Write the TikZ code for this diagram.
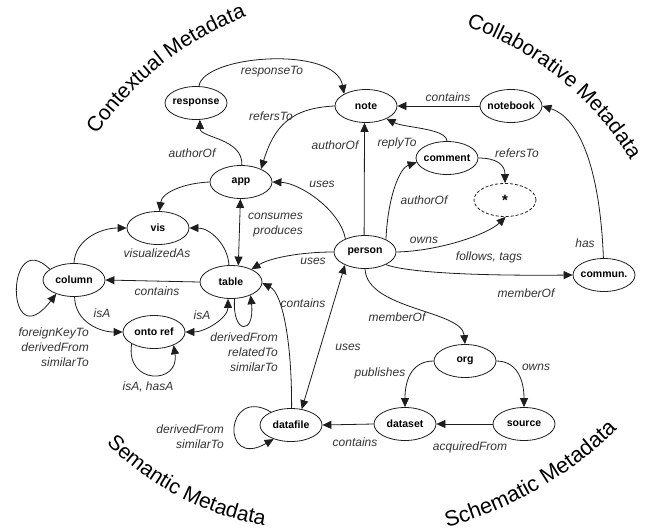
\documentclass[tikz,border=0pt]{standalone}
\usepackage{fontspec}
\setmainfont{Liberation Sans}
\usetikzlibrary{shapes.geometric,arrows.meta,decorations.text}
\definecolor{linec}{HTML}{1E1E1E}
\definecolor{labc}{HTML}{333333}
\newcommand\ttlfont{\fontsize{21}{21}\selectfont}
\newcommand\ttlfontb{\fontsize{21.8}{22}\selectfont}
\begin{document}
\begin{tikzpicture}[x=1pt,y=-1pt,
  ent/.style={ellipse,draw=linec,line width=0.8pt,minimum width=62pt,minimum height=33pt,
    inner xsep=-2pt,inner ysep=0pt,font=\bfseries\fontsize{10.5}{12}\selectfont},
  lab/.style={font=\itshape\fontsize{12}{15}\selectfont,text=labc,inner sep=0pt},
  conn/.style={draw=linec,line width=0.8pt,-{Triangle[length=9pt,width=8pt]}},
  both/.style={draw=linec,line width=0.8pt,{Triangle[length=9pt,width=8pt]}-{Triangle[length=9pt,width=8pt]}},
  ttl/.style={decorate,decoration={text along path,text={#1},text align=center}}
]
\useasboundingbox (0,0) rectangle (645,531);

% titles
\path[ttl={|\ttlfont|Contextual Metadata}] (66.5,189.6) .. controls (109.0,91.0) and (200.6,16.4) .. (307.0,1.0);
\path[ttl={|\ttlfont|Collaborative Metadata}] (417.0,13.2) .. controls (523.6,32.8) and (612.8,105.5) .. (653.2,206.1);
\path[ttl={|\ttlfont|Semantic Metadata}] (75.9,406.6) .. controls (129.8,483.6) and (218,529.3) .. (312,529);
\path[ttl={|\ttlfontb|Schematic Metadata}] (380.8,539.3) .. controls (493.3,528.9) and (595.5,469.8) .. (660.8,377.6);

% entities
\node[ent] (response) at (196,103) {response};
\node[ent] (note) at (366,106) {note};
\node[ent] (notebook) at (511,106) {notebook};
\node[ent] (app) at (241,182) {app};
\node[ent] (comment) at (447,158) {comment};
\node[ent,dash pattern=on 3pt off 2pt] (star) at (505,200) {\fontsize{15}{15}\selectfont *};
\node[ent] (vis) at (158,228) {vis};
\node[ent] (person) at (365,252) {person};
\node[ent] (column) at (74,280) {column};
\node[ent] (table) at (231,282) {table};
\node[ent] (commun) at (604,275) {commun.};
\node[ent] (onto) at (154,332) {onto ref};
\node[ent] (org) at (465,361) {org};
\node[ent] (datafile) at (291,425) {datafile};
\node[ent] (dataset) at (405,424) {dataset};
\node[ent] (source) at (524,424) {source};

% connectors
\draw[conn] (response.80) .. controls (203,55) and (335,45) .. (note.151);
\draw[conn] (note.west) .. controls (290,108) and (274,127) .. (app.33);
\draw[conn] (app.87) .. controls (243,138) and (200,138) .. (response.283);
\draw[conn] (person.93) -- (note.265);
\draw[conn] (comment.north) .. controls (446,128) and (405,128) .. (note.328);
\draw[conn] (notebook.west) -- (note.east);
\draw[conn] (commun.92) .. controls (600,170) and (580,118) .. (notebook.east);
\draw[conn] (comment.east) .. controls (497,158) and (505,165) .. (star.north);
\draw[conn] (person.east) .. controls (440,251) and (488,234) .. (star.272);
\draw[conn] (person.31) .. controls (388,195) and (400,168) .. (comment.188);
\draw[conn] (person.329) .. controls (405,272) and (470,276) .. (commun.west);
\draw[conn] (person.146) .. controls (340,210) and (300,183) .. (app.east);
\draw[conn] (person.west) .. controls (300,252) and (270,258) .. (table.32);
\draw[both] (app.268) -- (table.66);
\draw[conn] (app.west) .. controls (185,183) and (162,192) .. (vis.85);
\draw[conn] (table.97) .. controls (228,245) and (210,228) .. (vis.east);
\draw[conn] (column.north) .. controls (75,240) and (100,228) .. (vis.west);
\draw[conn] (table.west) -- (column.east);
\draw[conn] (column.156) .. controls (5,225) and (5,360) .. (column.218);
\draw[conn] (column.272) .. controls (75,322) and (100,332) .. (onto.west);
\draw[both] (onto.east) .. controls (205,332) and (228,318) .. (table.260);
\draw[conn] (table.282) .. controls (232,335) and (255,335) .. (table.326);
\draw[conn] (onto.208) .. controls (125,385) and (180,385) .. (onto.326);
\draw[conn] (datafile.88) .. controls (292,340) and (282,293) .. (table.358);
\draw[both] (datafile.56) -- (person.213);
\draw[conn] (datafile.147) .. controls (225,385) and (220,470) .. (datafile.219);
\draw[conn] (dataset.west) -- (datafile.east);
\draw[conn] (source.west) -- (dataset.east);
\draw[conn] (org.west) .. controls (413,361) and (405,378) .. (dataset.north);
\draw[conn] (org.east) .. controls (517,361) and (524,380) .. (source.north);
\draw[conn] (person.south) .. controls (367,310) and (462,310) .. (org.north);

% labels
\node[lab] (lResp) at (272,72) {responseTo};
\node[lab] (lRef1) at (271,116) {refersTo};
\node[lab] (lAuth1) at (192,153) {authorOf};
\node[lab] (lAuth2) at (335,145) {authorOf};
\node[lab] (lReply) at (397,143) {replyTo};
\node[lab] (lCont1) at (448,97) {contains};
\node[lab] (lHas) at (585,243) {has};
\node[lab] (lRef2) at (517,153) {refersTo};
\node[lab] (lOwns1) at (424,240) {owns};
\node[lab] (lAuth3) at (424,200) {authorOf};
\node[lab] (lFollow) at (489,257) {follows, tags};
\node[lab] (lMem1) at (526,293) {memberOf};
\node[lab] (lUses1) at (322,184) {uses};
\node[lab] (lUses2) at (313,261) {uses};
\node[lab,align=right,anchor=east] (lCons) at (303,225) {consumes\\produces};
\node[lab] (lVis) at (157,253) {visualizedAs};
\node[lab] (lCont2) at (157,291) {contains};
\node[lab,align=right,anchor=east] (lFK) at (89,347) {foreignKeyTo\\derivedFrom\\similarTo};
\node[lab] (lIsA1) at (102,313) {isA};
\node[lab] (lIsA2) at (202,315) {isA};
\node[lab,align=right,anchor=east] (lDer1) at (278,352) {derivedFrom\\relatedTo\\similarTo};
\node[lab] (lIsAHasA) at (148,387) {isA, hasA};
\node[lab] (lCont3) at (303,303) {contains};
\node[lab] (lUses3) at (348,347) {uses};
\node[lab,align=right,anchor=east] (lDer2) at (224,436.5) {derivedFrom\\similarTo};
\node[lab] (lCont4) at (355,442) {contains};
\node[lab] (lAcq) at (470,447) {acquiredFrom};
\node[lab] (lPub) at (380,373) {publishes};
\node[lab] (lOwns2) at (536,367) {owns};
\node[lab] (lMem2) at (397,317) {memberOf};
\end{tikzpicture}
\end{document}
